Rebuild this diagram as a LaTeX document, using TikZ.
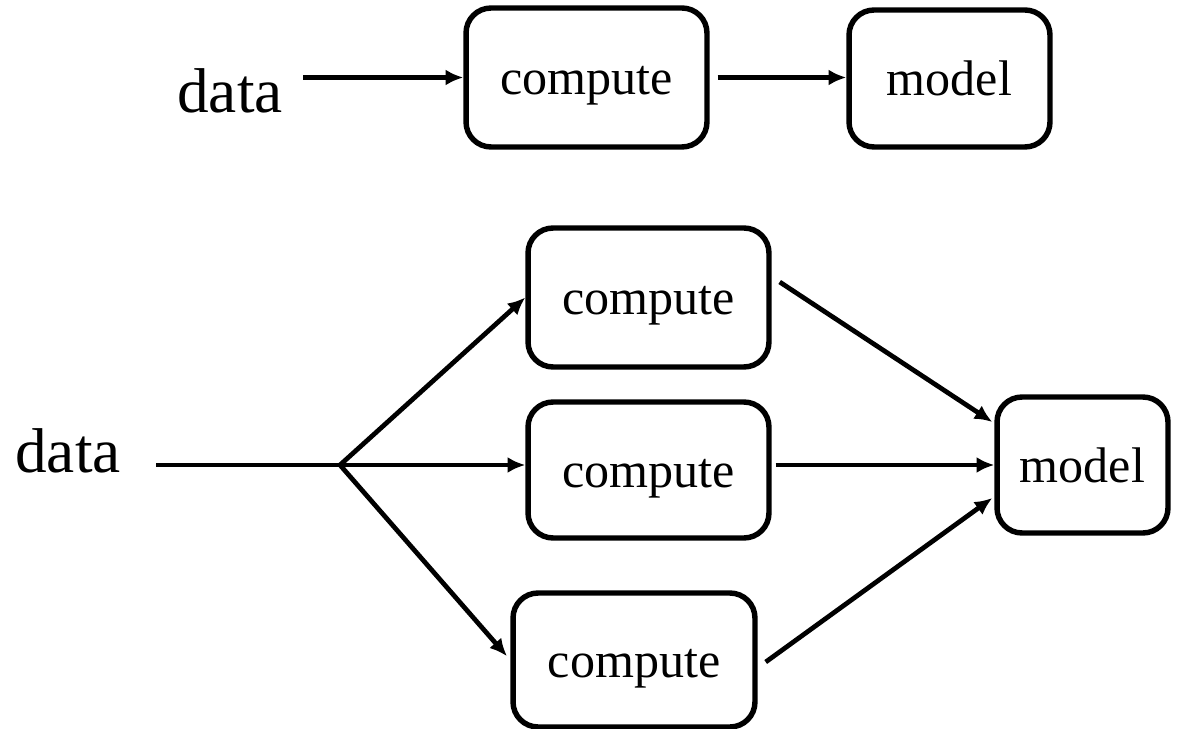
\documentclass[tikz,border=0pt]{standalone}
\usepackage{fontspec}
\setmainfont{Liberation Serif}
\usetikzlibrary{arrows.meta}

\tikzset{
  box/.style={draw, rounded corners=0.5cm, line width=3.1pt, inner sep=0pt,
    text height=0.9cm, text depth=0.2cm, font=\fontsize{28.5}{30}\selectfont},
  lbl/.style={inner sep=0pt, font=\fontsize{36}{38}\selectfont},
  conn/.style={line width=2.7pt, -{Latex[length=10pt,width=9pt]}},
}

\begin{document}
\begin{tikzpicture}[x=0.02cm, y=-0.02cm]
  \useasboundingbox (0,0) rectangle (1183,729);

  \node[lbl, anchor=base west] (data0) at (177,113) {data};
  \node[box, minimum width=4.82cm, minimum height=2.78cm] (comp0) at (586.5,77.5) {compute};
  \node[box, minimum width=4.02cm, minimum height=2.74cm] (model0) at (949.5,78.5) {model};

  \draw[conn, shorten <=0.4cm] (data0.east |- comp0.west) -- (comp0.west);
  \draw[conn, shorten <=0.16cm] (comp0.east) -- (comp0.east -| model0.west);

  \node[lbl, anchor=base west] (data1) at (15,472) {data};
  \node[box, minimum width=4.82cm, minimum height=2.78cm] (comp1) at (648.5,297.5) {compute};
  \node[box, minimum width=4.82cm, minimum height=2.72cm] (comp2) at (648.5,470) {compute};
  \node[box, minimum width=4.84cm, minimum height=2.68cm] (comp3) at (634,660) {compute};
  \node[box, minimum width=3.42cm, minimum height=2.72cm] (model1) at (1082.5,465) {model};
  \coordinate (split) at (340,465);

  \draw[line width=2.7pt, shorten <=0.7cm] (data1.east |- split) -- (split);
  \draw[conn] (split) -- (comp1.west);
  \draw[conn] (split) -- (split -| comp2.west);
  \draw[conn, shorten >=0.1cm] (split) -- (comp3.west);

  \draw[conn] ([shift={(8,-15.5)}]comp1.east) -- ([shift={(-2,-43)}]model1.west);
  \draw[conn, shorten <=0.08cm] (comp2.east |- model1.west) -- (model1.west);
  \draw[conn] ([shift={(8,2)}]comp3.east) -- ([shift={(-2,33)}]model1.west);
\end{tikzpicture}
\end{document}
